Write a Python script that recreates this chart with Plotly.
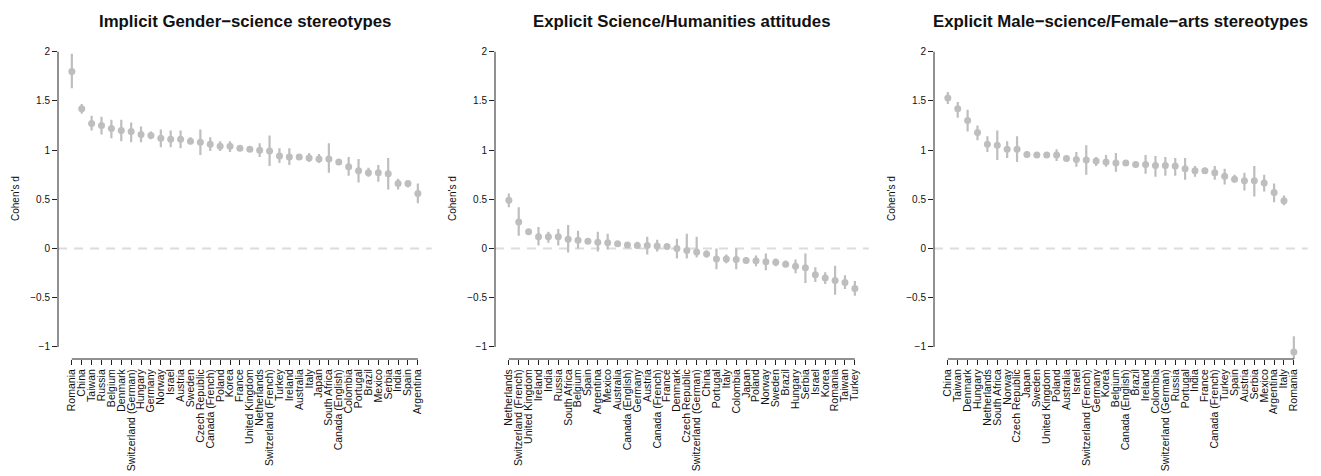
import plotly.graph_objects as go

# ---------------- data ----------------
titles = ["Implicit Gender\u2212science stereotypes",
          "Explicit Science/Humanities attitudes",
          "Explicit Male\u2212science/Female\u2212arts stereotypes"]

countries_1 = ["Romania", "China", "Taiwan", "Russia", "Belgium", "Denmark", "Switzerland (German)",
               "Hungary", "Germany", "Norway", "Israel", "Austria", "Sweden", "Czech Republic",
               "Canada (French)", "Poland", "Korea", "France", "United Kingdom", "Netherlands",
               "Switzerland (French)", "Turkey", "Ireland", "Australia", "Italy", "Japan",
               "South Africa", "Canada (English)", "Colombia", "Portugal", "Brazil", "Mexico",
               "Serbia", "India", "Spain", "Argentina"]
d_1 = [1.80, 1.42, 1.27, 1.25, 1.22, 1.20, 1.19, 1.16, 1.15, 1.12, 1.11, 1.11, 1.09, 1.08,
       1.06, 1.04, 1.04, 1.02, 1.01, 1.00, 0.99, 0.94, 0.93, 0.93, 0.92, 0.91, 0.91, 0.88,
       0.83, 0.79, 0.77, 0.77, 0.76, 0.66, 0.66, 0.56]
lo_1 = [1.63, 1.37, 1.20, 1.16, 1.12, 1.09, 1.08, 1.08, 1.11, 1.03, 1.03, 1.02, 1.06, 0.95,
        0.99, 0.99, 0.98, 0.99, 0.99, 0.93, 0.84, 0.87, 0.85, 0.91, 0.88, 0.87, 0.77, 0.86,
        0.74, 0.67, 0.73, 0.68, 0.60, 0.60, 0.62, 0.46]
hi_1 = [1.98, 1.47, 1.35, 1.34, 1.31, 1.31, 1.28, 1.24, 1.19, 1.21, 1.20, 1.20, 1.13, 1.21,
        1.13, 1.09, 1.09, 1.05, 1.03, 1.07, 1.15, 1.02, 1.02, 0.95, 0.97, 0.96, 1.07, 0.90,
        0.93, 0.91, 0.82, 0.85, 0.92, 0.71, 0.69, 0.66]

countries_2 = ["Netherlands", "Switzerland (French)", "United Kingdom", "Ireland", "India", "Russia",
               "South Africa", "Belgium", "Spain", "Argentina", "Mexico", "Australia",
               "Canada (English)", "Germany", "Austria", "Canada (French)", "France", "Denmark",
               "Czech Republic", "Switzerland (German)", "China", "Portugal", "Italy", "Colombia",
               "Japan", "Poland", "Norway", "Sweden", "Brazil", "Hungary", "Serbia", "Israel",
               "Korea", "Romania", "Taiwan", "Turkey"]
d_2 = [0.49, 0.27, 0.17, 0.12, 0.12, 0.12, 0.095, 0.085, 0.075, 0.065, 0.06, 0.05, 0.035, 0.03,
       0.03, 0.025, 0.02, 0.0, -0.02, -0.035, -0.055, -0.105, -0.105, -0.11, -0.12, -0.125,
       -0.135, -0.14, -0.16, -0.18, -0.195, -0.265, -0.30, -0.325, -0.345, -0.405]
lo_2 = [0.42, 0.13, 0.15, 0.03, 0.06, 0.03, -0.04, 0.0, 0.05, -0.03, -0.01, 0.03, 0.02, 0.0,
        -0.06, -0.03, 0.0, -0.10, -0.10, -0.09, -0.09, -0.21, -0.15, -0.21, -0.15, -0.18,
        -0.22, -0.18, -0.19, -0.25, -0.35, -0.34, -0.36, -0.47, -0.41, -0.48]
hi_2 = [0.56, 0.42, 0.19, 0.22, 0.17, 0.20, 0.24, 0.18, 0.10, 0.17, 0.15, 0.07, 0.05, 0.07,
        0.12, 0.09, 0.04, 0.10, 0.15, 0.12, -0.02, 0.0, -0.06, 0.0, -0.09, -0.07, -0.05, -0.10,
        -0.12, -0.11, -0.05, -0.19, -0.24, -0.175, -0.27, -0.33]

countries_3 = ["China", "Taiwan", "Denmark", "Hungary", "Netherlands", "South Africa", "Norway",
               "Czech Republic", "Japan", "Sweden", "United Kingdom", "Poland", "Australia",
               "Israel", "Switzerland (French)", "Germany", "Korea", "Belgium", "Canada (English)",
               "Brazil", "Ireland", "Colombia", "Switzerland (German)", "Russia", "Portugal",
               "India", "France", "Canada (French)", "Turkey", "Spain", "Austria", "Serbia",
               "Mexico", "Argentina", "Italy", "Romania"]
d_3 = [1.53, 1.42, 1.30, 1.18, 1.06, 1.05, 1.01, 1.01, 0.955, 0.95, 0.95, 0.95, 0.915, 0.905,
       0.90, 0.89, 0.88, 0.87, 0.87, 0.855, 0.855, 0.845, 0.845, 0.84, 0.81, 0.79, 0.79, 0.77,
       0.735, 0.705, 0.69, 0.69, 0.665, 0.57, 0.485, -1.05]
lo_3 = [1.47, 1.33, 1.19, 1.10, 0.98, 0.90, 0.92, 0.88, 0.92, 0.92, 0.93, 0.89, 0.90, 0.83,
        0.75, 0.84, 0.83, 0.78, 0.85, 0.83, 0.76, 0.73, 0.74, 0.74, 0.70, 0.73, 0.77, 0.70,
        0.65, 0.67, 0.59, 0.53, 0.58, 0.47, 0.44, -1.20]
hi_3 = [1.59, 1.49, 1.41, 1.25, 1.14, 1.20, 1.09, 1.14, 0.99, 0.98, 0.97, 1.01, 0.93, 0.98,
        1.05, 0.93, 0.95, 0.97, 0.89, 0.88, 0.95, 0.94, 0.93, 0.92, 0.92, 0.84, 0.82, 0.84,
        0.81, 0.75, 0.77, 0.84, 0.75, 0.66, 0.54, -0.89]

y_ticks = [-1, -0.5, 0, 0.5, 1, 1.5, 2]

# ---------------- layout constants ----------------
PAGE_W, PAGE_H = 1321, 476
OFF = 8                      # default body margin of the html page
W, H = PAGE_W - OFF, PAGE_H - OFF
FONT = "Liberation Sans, Arial, Helvetica, sans-serif"
GRAY = "#BEBEBE"
panel_left = [58 - OFF, 495 - OFF, 934 - OFF]
panel_w = 373.7
plot_top, plot_bottom = 40 - OFF, 359 - OFF
y_dom = [(H - plot_bottom) / H, (H - plot_top) / H]

panels = [(countries_1, d_1, lo_1, hi_1),
          (countries_2, d_2, lo_2, hi_2),
          (countries_3, d_3, lo_3, hi_3)]

fig = go.Figure()
shapes, annotations = [], []

for i, (cats, d, lo, hi) in enumerate(panels):
    sfx = "" if i == 0 else str(i + 1)
    xa, ya = "x" + sfx, "y" + sfx
    n = len(cats)
    fig.add_trace(go.Scatter(
        x=cats, y=d, mode="markers", xaxis=xa, yaxis=ya,
        marker=dict(color=GRAY, size=7),
        error_y=dict(type="data", symmetric=False,
                     array=[h - v for h, v in zip(hi, d)],
                     arrayminus=[v - l for v, l in zip(d, lo)],
                     color=GRAY, thickness=2.2, width=0),
        showlegend=False, hoverinfo="x+y"))

    x0 = panel_left[i] / W
    x1 = (panel_left[i] + panel_w) / W
    fig.layout["xaxis" + sfx] = dict(
        domain=[x0, x1], anchor=ya, type="category",
        categoryorder="array", categoryarray=cats,
        tickmode="array", tickvals=cats, ticktext=cats,
        range=[-1.4, n - 1 + 1.4], showgrid=False, zeroline=False, showline=False,
        ticks="outside", ticklen=5, tickwidth=1, tickcolor="#222",
        tickangle=-90, tickfont=dict(family=FONT, size=10.5, color="#111"),
        fixedrange=True)
    fig.layout["yaxis" + sfx] = dict(
        domain=y_dom, anchor=xa, range=[-1.122, 2.119],
        tickvals=y_ticks, ticktext=[("\u2212" if v < 0 else "") + f"{abs(v):g}" for v in y_ticks],
        showgrid=False, zeroline=False, showline=False,
        ticks="outside", ticklen=5, tickwidth=1, tickcolor="#222",
        tickfont=dict(family=FONT, size=10, color="#111"), fixedrange=True)

    # zero dashed reference line across the plot region
    shapes.append(dict(type="line", xref=xa + " domain", yref=ya, x0=0, x1=1, y0=0, y1=0,
                       line=dict(color="#DCDCDC", width=2, dash="9px,7px"), layer="below"))
    # y axis line from -1 to 2
    shapes.append(dict(type="line", xref=xa + " domain", yref=ya, x0=0, x1=0,
                       y0=y_ticks[0], y1=y_ticks[-1], line=dict(color="#222", width=1)))
    # x axis line from first to last category
    shapes.append(dict(type="line", xref=xa, yref=ya + " domain", x0=0, x1=n - 1,
                       y0=0, y1=0, line=dict(color="#222", width=1)))

    annotations.append(dict(text=titles[i], xref="paper", yref="paper",
                            x=(panel_left[i] + panel_w / 2) / W, y=(H - (21 - OFF)) / H,
                            xanchor="center", yanchor="middle", showarrow=False,
                            font=dict(family=FONT, size=16.8, color="#111", weight="bold")))
    annotations.append(dict(text="Cohen's d", xref="paper", yref="paper",
                            x=(panel_left[i] - 43) / W, y=(H - (199 - OFF)) / H, textangle=-90,
                            xanchor="center", yanchor="middle", showarrow=False,
                            font=dict(family=FONT, size=10, color="#111")))

fig.update_layout(width=W, height=H, margin=dict(l=0, r=0, t=0, b=0),
                  plot_bgcolor="white", paper_bgcolor="white",
                  shapes=shapes, annotations=annotations,
                  font=dict(family=FONT))

fig.write_html("out.html")
